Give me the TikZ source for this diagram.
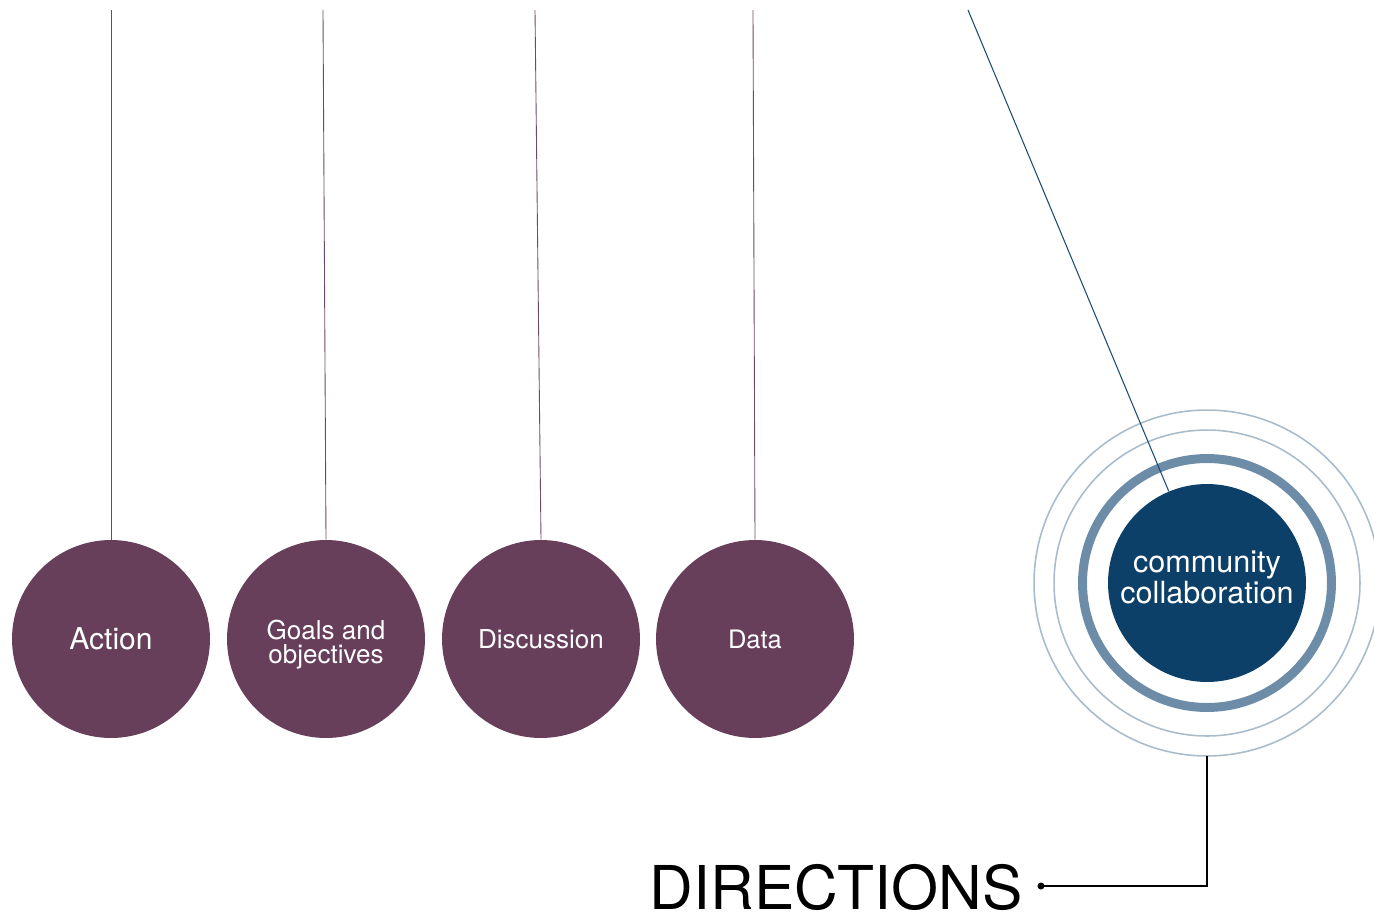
\documentclass[tikz,border=0pt]{standalone}
\usepackage{fontspec}
\setmainfont{TeX Gyre Heros}
\usepackage{xcolor}
\usepackage{tikz}
\usetikzlibrary{calc,positioning}

\definecolor{plum}{HTML}{673F5B}
\definecolor{plumline}{HTML}{6E4A64}
\definecolor{navy}{HTML}{0D4068}
\definecolor{steel}{HTML}{6C8CA8}
\definecolor{haze}{HTML}{A9BCCB}

\tikzset{
	ball/.style={circle,fill=plum,text=white,minimum size=3.96cm,inner sep=0pt,align=center,font=\fontsize{14.8}{13.6}\selectfont},
	hub/.style={circle,fill=navy,text=white,minimum size=3.96cm,inner sep=0pt,align=center,font=\fontsize{17.4}{15.2}\selectfont},
	string/.style={plumline,line width=0.5pt},
	ring/.style={haze,line width=0.9pt}
}

\begin{document}
\begin{tikzpicture}[x=0.02cm,y=-0.02cm]
		\clip (0,0) rectangle (1374,914);
		\useasboundingbox (0,0) rectangle (1374,914);
		% pendulum balls
		\node[ball,font=\fontsize{17.1}{17}\selectfont] (action) at (111,639) {Action};
		\node[ball,text depth=0pt] (goals) at (326,639) {\raisebox{-3pt}{Goals and}\\\raisebox{-3pt}{objectives}};
		\node[ball] (discussion) at (541,639) {Discussion};
		\node[ball,font=\fontsize{14.5}{14}\selectfont] (data) at (755,639) {Data};
		\coordinate (actiontop) at (111,10);
		\coordinate (goalstop) at (323,10);
		\coordinate (discussiontop) at (535,10);
		\coordinate (datatop) at (753,10);
		\draw[string] (actiontop) -- (action.north);
		\draw[string] (goalstop) -- (goals.north);
		\draw[string] (discussiontop) -- (discussion.north);
		\draw[string] (datatop) -- (data.north);
		% swinging ball with rings
		\node[hub,text depth=7pt] (collab) at (1207,583) {community\\collaboration};
		\draw[ring] (collab.center) circle (3.46cm);
		\draw[ring] (collab.center) circle (3.06cm);
		\draw[steel,line width=5.1pt] (collab.center) circle (2.49cm);
		\coordinate (collabtop) at (968,10);
		\draw[navy!85!steel,line width=0.6pt] (collabtop) -- (collab);
		% label
		\node[anchor=base east,inner sep=0pt,font=\fontsize{34.4}{34}\selectfont] (dir) at (1023,909) {DIRECTIONS};
		\coordinate (dot) at (1041,886);
		\coordinate (ringbot) at ($(collab.center)+(0,-3.46cm)$);
		\draw[black,line width=0.9pt] (ringbot) |- (dot);
		\fill[black] (dot) circle (0.07cm);
	\end{tikzpicture}
\end{document}
